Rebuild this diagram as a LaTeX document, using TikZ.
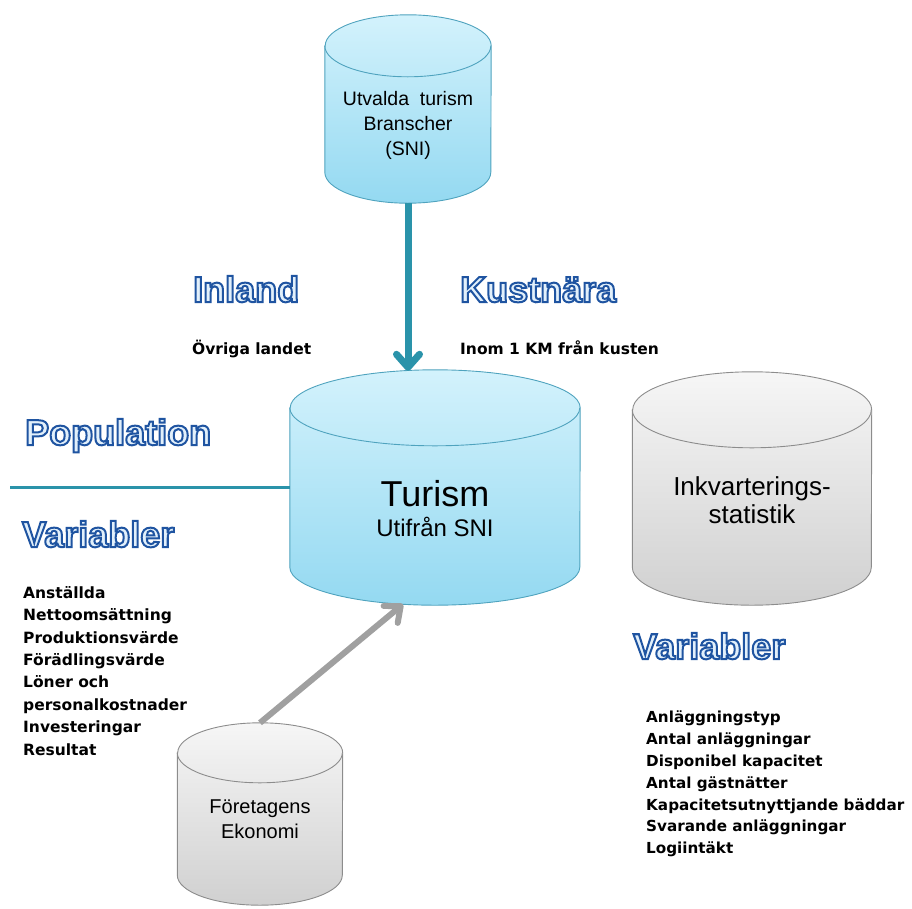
\documentclass[tikz,border=0pt]{standalone}
\usepackage{fontspec}
\setmainfont{Liberation Sans}
\newfontfamily\listfont{DejaVu Sans}
\usetikzlibrary{arrows.meta,backgrounds}
\definecolor{tealline}{HTML}{2A93AA}
\definecolor{blueedge}{HTML}{4FA3BE}
\definecolor{bluetop}{HTML}{D3F2FC}
\definecolor{bluebot}{HTML}{94D9F1}
\definecolor{greyedge}{HTML}{8C8C8C}
\definecolor{greytop}{HTML}{F6F6F6}
\definecolor{greybot}{HTML}{D0D0D0}
\definecolor{greyline}{HTML}{A0A0A0}
\definecolor{headfill}{HTML}{E2F0FB}
% outlined heading text
\newcommand\outlinetext[1]{{\color{headfill}\special{pdf:literal direct 2 Tr 2 w 0.12 0.33 0.63 RG}#1\special{pdf:literal direct 0 Tr 0.4 w}}}
% cylinder round a body node: node, x radius, y radius, fill style, edge colour
\newcommand\cylinderdraw[5]{%
  \path[#4,draw=#5,line width=0.9pt] (#1.north west) -- (#1.south west)
    arc[start angle=180,end angle=360,x radius=#2pt,y radius=#3pt] -- (#1.north east)
    arc[start angle=0,end angle=180,x radius=#2pt,y radius=#3pt] -- cycle;
  \draw[#5,line width=0.9pt] (#1.north west)
    arc[start angle=180,end angle=360,x radius=#2pt,y radius=#3pt];}
\begin{document}
\begin{tikzpicture}
[x=1pt,y=-1pt,
 bodydecorate/.style={shape=rectangle,inner sep=0pt,draw=none},
 blueshade/.style={top color=bluetop,bottom color=bluebot},
 greyshade/.style={top color=greytop,bottom color=greybot},
 headdecorate/.style={font=\fontsize{36}{40}\selectfont\bfseries,inner sep=0pt,anchor=base west},
 notedecorate/.style={font=\listfont\bfseries\fontsize{15.5}{22.4}\selectfont,inner sep=0pt,anchor=base west},
 listdecorate/.style={font=\listfont\bfseries\fontsize{15.5}{22.4}\selectfont,inner sep=0pt,
   align=left,anchor=north west},
 tealarrow/.style={draw=tealline,line width=7pt,-{Straight Barb[length=13pt,width=23pt,round]}},
 greyarrow/.style={draw=greyline,line width=6pt,-{Straight Barb[length=13pt,width=22pt,round]}}]
\useasboundingbox (0,0) rectangle (912,908);
%%% cylinder bodies
\node (ut) at (408,109) [bodydecorate,minimum width=166pt,minimum height=126pt,
  label={[align=center,yshift=-16pt,font=\fontsize{19.5}{25}\selectfont]center:Utvalda\ \ turism\\Branscher\\(SNI)}] {};
\node (tu) at (435,487.5) [bodydecorate,minimum width=290pt,minimum height=159pt,
  label={[align=center,yshift=-21pt,font=\fontsize{24}{30.6}\selectfont]center:{\fontsize{36}{36}\selectfont Turism}\\Utifrån SNI}] {};
\node (ik) at (752,488.5) [bodydecorate,minimum width=239pt,minimum height=157pt,
  label={[align=center,yshift=-12pt,font=\fontsize{26}{28}\selectfont]center:Inkvarterings-\\statistik}] {};
\node (fe) at (260,814) [bodydecorate,minimum width=165pt,minimum height=122pt,
  label={[align=center,yshift=-5pt,font=\fontsize{20}{25}\selectfont]center:Företagens\\Ekonomi}] {};
\begin{pgfonlayer}{background}
\cylinderdraw{ut}{83}{31}{blueshade}{blueedge}
\cylinderdraw{tu}{145}{38}{blueshade}{blueedge}
\cylinderdraw{ik}{119.5}{38}{greyshade}{greyedge}
\cylinderdraw{fe}{82.5}{30}{greyshade}{greyedge}
\end{pgfonlayer}
%%% headings
\node (inland) at (193,302) [headdecorate] {\outlinetext{Inland}};
\node (kust) at (460,302) [headdecorate] {\outlinetext{Kustnära}};
\node (pop) at (25,445) [headdecorate] {\outlinetext{Population}};
\node (varl) at (22,547) [headdecorate] {\outlinetext{Variabler}};
\node (varr) at (633,659) [headdecorate] {\outlinetext{Variabler}};
%%% notes
\node (ovr) at (192,354) [notedecorate] {Övriga landet};
\node (inom) at (460,354) [notedecorate] {Inom 1 KM från kusten};
% variable lists
\node (listl) at (23,586) [listdecorate] {Anställda\\Nettoomsättning\\Produktionsvärde\\
  Förädlingsvärde\\Löner och\\personalkostnader\\Investeringar\\Resultat};
\node (listr) at (646,710.5) [listdecorate,font=\listfont\bfseries\fontsize{15.2}{21.9}\selectfont]
  {Anläggningstyp\\Antal anläggningar\\Disponibel kapacitet\\
  Antal gästnätter\\Kapacitetsutnyttjande bäddar\\Svarande anläggningar\\Logiintäkt};
%%% connectors
\coordinate (popl) at (10,487.5);
\draw[tealline,line width=3.5pt] (popl) -- (tu.west);
\draw[tealarrow] ([yshift=-31pt]ut.south) -- ([yshift=37pt]ut.south |- tu.north);
\draw[greyarrow] ([yshift=30pt]fe.north) -- ([xshift=-32pt,yshift=-37pt]tu.south);
\end{tikzpicture}
\end{document}
